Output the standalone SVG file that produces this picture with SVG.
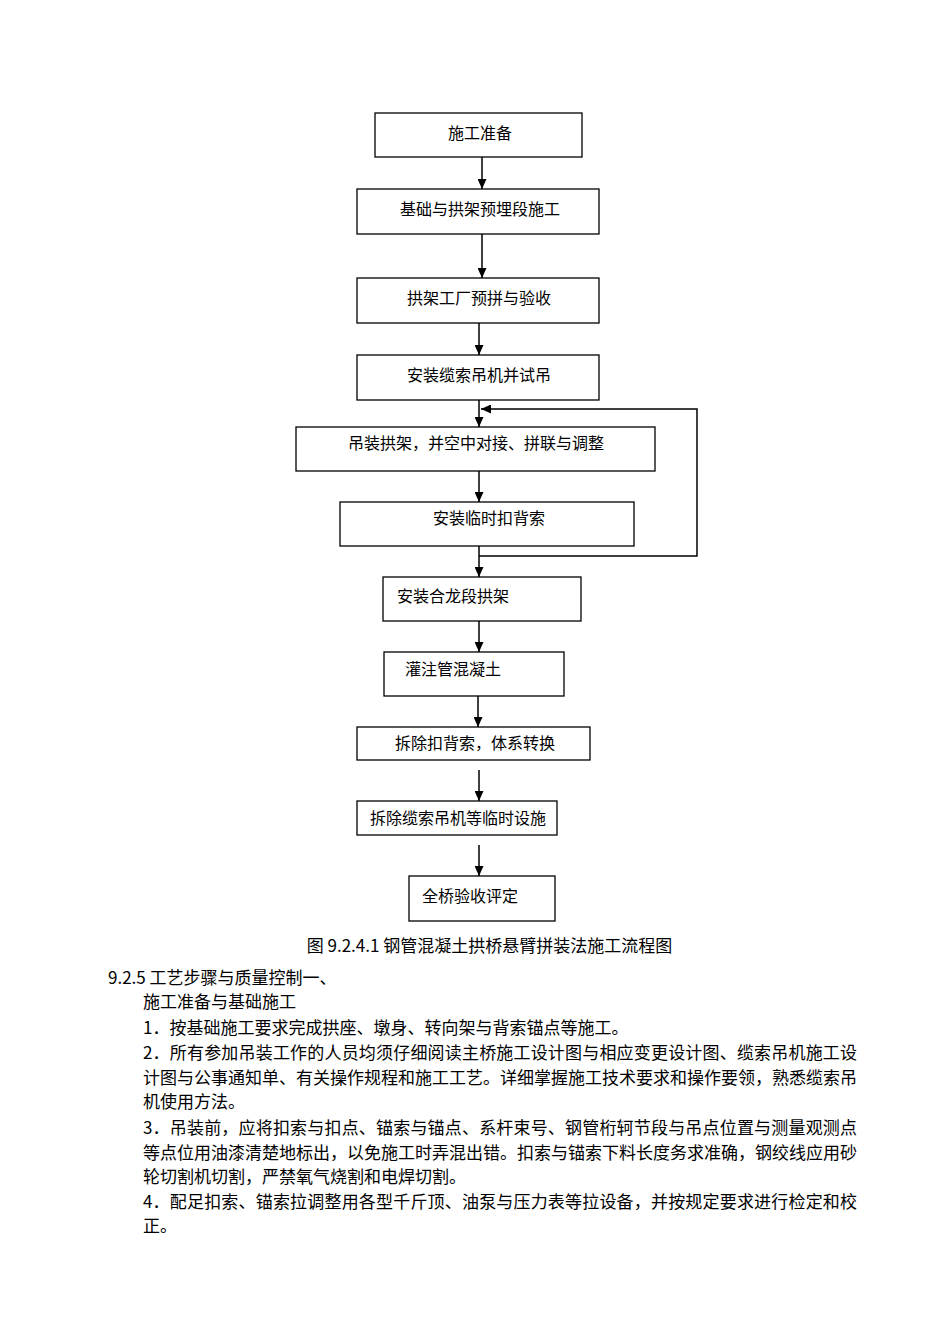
<svg xmlns="http://www.w3.org/2000/svg" width="950" height="1344" viewBox="0 0 950 1344">
<style>
.box{fill:#fff;stroke:#000;stroke-width:1.3}
.bt{font-family:"Noto Sans CJK SC","Noto Sans",sans-serif;font-size:16px;fill:#000}
.c{stroke:#000;stroke-width:1.5;fill:none}
.p{font-family:"Noto Sans CJK SC","Noto Sans",sans-serif;font-size:17px;fill:#000}
</style>
<defs>
<marker id="ah" viewBox="0 0 10 10" refX="10" refY="5" markerWidth="10" markerHeight="9" markerUnits="userSpaceOnUse" orient="auto" preserveAspectRatio="none">
<path d="M0,0 L10,5 L0,10 z" fill="#000"/>
</marker>
</defs>
<rect width="950" height="1344" fill="#fff"/>
<g id="connectors">
<line class="c" x1="482" y1="157" x2="482" y2="189" marker-end="url(#ah)"/>
<line class="c" x1="482" y1="234" x2="482" y2="278" marker-end="url(#ah)"/>
<line class="c" x1="479" y1="323" x2="479" y2="355" marker-end="url(#ah)"/>
<line class="c" x1="479" y1="400" x2="479" y2="427" marker-end="url(#ah)"/>
<line class="c" x1="479" y1="471" x2="479" y2="502" marker-end="url(#ah)"/>
<line class="c" x1="479" y1="546" x2="479" y2="577" marker-end="url(#ah)"/>
<polyline class="c" points="479,556 697,556 697,409 481,409" marker-end="url(#ah)"/>
<line class="c" x1="479" y1="621" x2="479" y2="652" marker-end="url(#ah)"/>
<line class="c" x1="478" y1="696" x2="478" y2="727" marker-end="url(#ah)"/>
<line class="c" x1="479" y1="770" x2="479" y2="801" marker-end="url(#ah)"/>
<line class="c" x1="479" y1="845" x2="479" y2="876" marker-end="url(#ah)"/>
</g>
<g id="n1"><rect class="box" x="375" y="113" width="207" height="44"/><text class="bt" x="480" y="139" text-anchor="middle">施工准备</text></g>
<g id="n2"><rect class="box" x="357" y="189" width="242" height="45"/><text class="bt" x="480" y="215" text-anchor="middle">基础与拱架预埋段施工</text></g>
<g id="n3"><rect class="box" x="357" y="278" width="242" height="45"/><text class="bt" x="479" y="304" text-anchor="middle">拱架工厂预拼与验收</text></g>
<g id="n4"><rect class="box" x="357" y="355" width="242" height="45"/><text class="bt" x="479" y="381" text-anchor="middle">安装缆索吊机并试吊</text></g>
<g id="n5"><rect class="box" x="296" y="427" width="359" height="44"/><text class="bt" x="348" y="449">吊装拱架，并空中对接、拼联与调整</text></g>
<g id="n6"><rect class="box" x="340" y="502" width="294" height="44"/><text class="bt" x="433" y="524">安装临时扣背索</text></g>
<g id="n7"><rect class="box" x="383" y="577" width="198" height="44"/><text class="bt" x="397" y="602">安装合龙段拱架</text></g>
<g id="n8"><rect class="box" x="384" y="652" width="180" height="44"/><text class="bt" x="405" y="675">灌注管混凝土</text></g>
<g id="n9"><rect class="box" x="357" y="727" width="233" height="33"/><text class="bt" x="395" y="749">拆除扣背索，体系转换</text></g>
<g id="n10"><rect class="box" x="357" y="801" width="200" height="34"/><text class="bt" x="370" y="824">拆除缆索吊机等临时设施</text></g>
<g id="n11"><rect class="box" x="409" y="876" width="146" height="45"/><text class="bt" x="422" y="902">全桥验收评定</text></g>
<text class="p" x="489.5" y="952" text-anchor="middle">图 9.2.4.1 钢管混凝土拱桥悬臂拼装法施工流程图</text>
<text class="p" x="108" y="984">9.2.5 工艺步骤与质量控制一、</text>
<text class="p" x="143" y="1008">施工准备与基础施工</text>
<text class="p" x="143" y="1034">1．按基础施工要求完成拱座、墩身、转向架与背索锚点等施工。</text>
<text class="p" x="143" y="1059" textLength="714" lengthAdjust="spacing">2．所有参加吊装工作的人员均须仔细阅读主桥施工设计图与相应变更设计图、缆索吊机施工设</text>
<text class="p" x="143" y="1084" textLength="714" lengthAdjust="spacing">计图与公事通知单、有关操作规程和施工工艺。详细掌握施工技术要求和操作要领，熟悉缆索吊</text>
<text class="p" x="143" y="1108">机使用方法。</text>
<text class="p" x="143" y="1134" textLength="714" lengthAdjust="spacing">3．吊装前，应将扣索与扣点、锚索与锚点、系杆束号、钢管桁轲节段与吊点位置与测量观测点</text>
<text class="p" x="143" y="1159" textLength="714" lengthAdjust="spacing">等点位用油漆清楚地标出，以免施工时弄混出错。扣索与锚索下料长度务求准确，钢绞线应用砂</text>
<text class="p" x="143" y="1183">轮切割机切割，严禁氧气烧割和电焊切割。</text>
<text class="p" x="143" y="1208" textLength="714" lengthAdjust="spacing">4．配足扣索、锚索拉调整用各型千斤顶、油泵与压力表等拉设备，并按规定要求进行检定和校</text>
<text class="p" x="143" y="1232">正。</text>
</svg>
